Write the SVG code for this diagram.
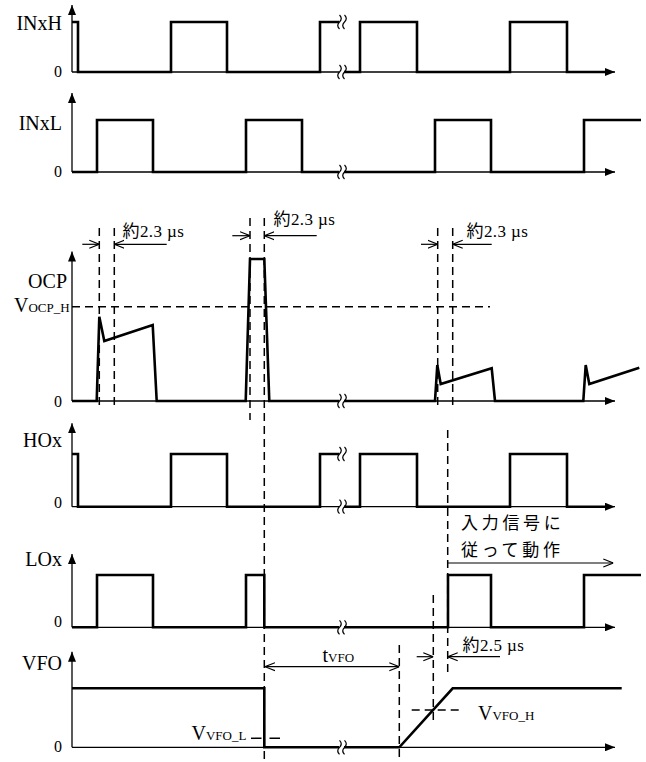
<svg xmlns="http://www.w3.org/2000/svg" xmlns:xlink="http://www.w3.org/1999/xlink" width="646" height="762" viewBox="0 0 646 762">
<style>
.sig{fill:none;stroke:#000;stroke-width:2.6;stroke-linejoin:miter}
.ax{fill:none;stroke:#000;stroke-width:1.3}
.axa{fill:none;stroke:#000;stroke-width:1.3;marker-end:url(#ah)}
.dash{fill:none;stroke:#000;stroke-width:1.5;stroke-dasharray:8,5}
.dim{fill:none;stroke:#000;stroke-width:1.2;marker-end:url(#op)}
.brk{fill:none;stroke:#000;stroke-width:1.2}
.lbl{font-family:"Liberation Serif","Times New Roman",serif;font-size:20px;fill:#000;text-anchor:end}
.zero{font-family:"Liberation Serif","Times New Roman",serif;font-size:16px;fill:#000;text-anchor:end}
.sub{font-size:13px}
.t{font-family:"Liberation Serif","Times New Roman",serif;font-size:20px;fill:#000}
.dl{font-family:"Liberation Serif","Noto Sans CJK JP",serif;font-size:17px;fill:#000;letter-spacing:0.4px}
.jp{font-family:"Noto Sans CJK JP",sans-serif;font-size:17px;fill:#000;letter-spacing:3.7px}
</style>
<defs>
<marker id="ah" viewBox="0 0 10 8" refX="10" refY="4" markerWidth="10" markerHeight="8" markerUnits="userSpaceOnUse" orient="auto"><path d="M0,0 L10,4 L0,8 z" fill="#000"/></marker>
<marker id="op" viewBox="0 0 10 10" refX="10" refY="5" markerWidth="10" markerHeight="10" markerUnits="userSpaceOnUse" orient="auto-start-reverse"><path d="M0,1 L10,5 L0,9" fill="none" stroke="#000" stroke-width="1.2"/></marker>
<path id="brk" class="brk" d="M-2,-7 q3.5,3.5 0,7 t0,7 M3,-7 q3.5,3.5 0,7 t0,7"/>
</defs>

<g id="INxH">
<text class="lbl" x="62" y="30">INxH</text>
<text class="zero" x="62" y="77">0</text>
<line class="axa" x1="72" y1="72" x2="72" y2="5"/>
<line class="ax" x1="72" y1="72" x2="339" y2="72"/>
<line class="axa" x1="344" y1="72" x2="615" y2="72"/>
<path class="sig" d="M72,22 H78 V72 H171 V22 H227 V72 H320 V22 H339"/>
<path class="sig" d="M344,72 H360 V22 H417 V72 H510 V22 H567 V72 H605"/>
<use xlink:href="#brk" x="341.5" y="22"/>
<use xlink:href="#brk" x="341.5" y="72"/>
</g>

<g id="INxL">
<text class="lbl" x="62" y="130">INxL</text>
<text class="zero" x="62" y="177">0</text>
<line class="axa" x1="72" y1="172" x2="72" y2="93"/>
<line class="ax" x1="72" y1="172" x2="339" y2="172"/>
<line class="axa" x1="344" y1="172" x2="615" y2="172"/>
<path class="sig" d="M72,172 H97 V120 H153 V172 H246 V120 H302 V172 H339"/>
<path class="sig" d="M344,172 H435 V120 H491 V172 H584 V120 H641"/>
<use xlink:href="#brk" x="341.5" y="172"/>
</g>

<g id="OCP">
<text class="lbl" x="67" y="288">OCP</text>
<text class="t" x="14" y="311.5">V<tspan class="sub">OCP_H</tspan></text>
<text class="zero" x="62" y="406.5">0</text>
<line class="axa" x1="72" y1="401" x2="72" y2="251.5"/>
<line class="ax" x1="72" y1="401" x2="339" y2="401"/>
<line class="axa" x1="344" y1="401" x2="615" y2="401"/>
<path class="sig" d="M72,401 H96.7 L99.3,316.7 L104.3,341 L152.7,325 L156.7,401 H245.7 L250,259 H264.3 L269.3,401 H339"/>
<path class="sig" d="M344,401 H435 L437.3,365 L440.7,384 L491.7,368.3 L495,401 H583.3 L585.7,365 L589.3,384 L639.3,367.7"/>
<use xlink:href="#brk" x="341.5" y="401"/>
</g>

<g id="HOx">
<text class="lbl" x="62" y="446.5">HOx</text>
<text class="zero" x="62" y="508">0</text>
<line class="axa" x1="72" y1="506.7" x2="72" y2="423.3"/>
<line class="ax" x1="72" y1="506.7" x2="339" y2="506.7"/>
<line class="axa" x1="344" y1="506.7" x2="615" y2="506.7"/>
<path class="sig" d="M72,454 H78 V506.7 H171 V454 H227 V506.7 H320 V454 H339"/>
<path class="sig" d="M344,506.7 H360 V454 H417 V506.7 H510 V454 H567 V506.7 H605"/>
<use xlink:href="#brk" x="341.5" y="454"/>
<use xlink:href="#brk" x="341.5" y="506.7"/>
</g>

<g id="LOx">
<text class="lbl" x="62" y="566">LOx</text>
<text class="zero" x="62" y="626.7">0</text>
<line class="axa" x1="72" y1="627.3" x2="72" y2="554"/>
<line class="ax" x1="72" y1="627.3" x2="339" y2="627.3"/>
<line class="axa" x1="344" y1="627.3" x2="615" y2="627.3"/>
<path class="sig" d="M72,627.3 H97 V575 H153 V627.3 H246 V575 H264.3 V627.3 H339"/>
<path class="sig" d="M344,627.3 H448 V575 H491 V627.3 H584 V575 H641"/>
<use xlink:href="#brk" x="341.5" y="627.3"/>
</g>

<g id="VFO">
<text class="lbl" x="62" y="670">VFO</text>
<text class="zero" x="62" y="751.5">0</text>
<line class="axa" x1="72" y1="747.3" x2="72" y2="651.7"/>
<line class="ax" x1="72" y1="747.3" x2="339" y2="747.3"/>
<line class="axa" x1="344" y1="747.3" x2="615" y2="747.3"/>
<path class="sig" d="M72,688.3 H264.3 V747.3 H339"/>
<path class="sig" d="M344,747.3 H399.3 L452.7,688.3 H621.7"/>
<use xlink:href="#brk" x="341.5" y="747.3"/>
<text class="t" x="191.5" y="740">V<tspan class="sub">VFO_L</tspan></text>
<text class="t" x="478" y="719.5">V<tspan class="sub">VFO_H</tspan></text>
<text class="t" x="322.5" y="662">t<tspan class="sub">VFO</tspan></text>
</g>

<g id="labels">
<text class="dl" x="122.5" y="236.5">約2.3 µs</text>
<text class="dl" x="273.5" y="225">約2.3 µs</text>
<text class="dl" x="466.5" y="236.5">約2.3 µs</text>
<text class="dl" x="462.5" y="650.5">約2.5 µs</text>
<text class="jp" x="461" y="529">入力信号に</text>
<text class="jp" x="461" y="556">従って動作</text>
</g>

<g id="connectors">
<line class="dash" x1="72" y1="306.7" x2="490" y2="306.7"/>
<line class="dash" x1="99.3" y1="228" x2="99.3" y2="405"/>
<line class="dash" x1="114.3" y1="228" x2="114.3" y2="405"/>
<line class="dash" x1="250" y1="218" x2="250" y2="420"/>
<line class="dash" x1="264.3" y1="218" x2="264.3" y2="762"/>
<line class="dash" x1="437.7" y1="228" x2="437.7" y2="405"/>
<line class="dash" x1="452.7" y1="228" x2="452.7" y2="407"/>
<line class="dash" x1="447.7" y1="430" x2="447.7" y2="672"/>
<line class="dash" x1="433.3" y1="595" x2="433.3" y2="722"/>
<line class="dash" x1="399.3" y1="645" x2="399.3" y2="762"/>
<line class="dash" x1="251" y1="738.3" x2="281" y2="738.3" style="stroke-dasharray:10.5,8"/>
<line class="dash" x1="411.7" y1="710" x2="463.3" y2="710"/>
<line class="dim" x1="82.3" y1="244.3" x2="99.3" y2="244.3"/>
<line class="dim" x1="166.7" y1="244.3" x2="114.3" y2="244.3"/>
<line class="dim" x1="232.3" y1="235.7" x2="250" y2="235.7"/>
<line class="dim" x1="316.7" y1="235.7" x2="264.3" y2="235.7"/>
<line class="dim" x1="421" y1="244.3" x2="437.7" y2="244.3"/>
<line class="dim" x1="491.7" y1="244.3" x2="452.7" y2="244.3"/>
<line class="dim" x1="416.7" y1="656.7" x2="433.3" y2="656.7"/>
<line class="dim" x1="500" y1="656.7" x2="447.7" y2="656.7"/>
<line class="dim" x1="265" y1="666.7" x2="399.3" y2="666.7" style="marker-start:url(#op)"/>
<line class="dim" x1="448" y1="563" x2="613.3" y2="563"/>
</g>
</svg>
